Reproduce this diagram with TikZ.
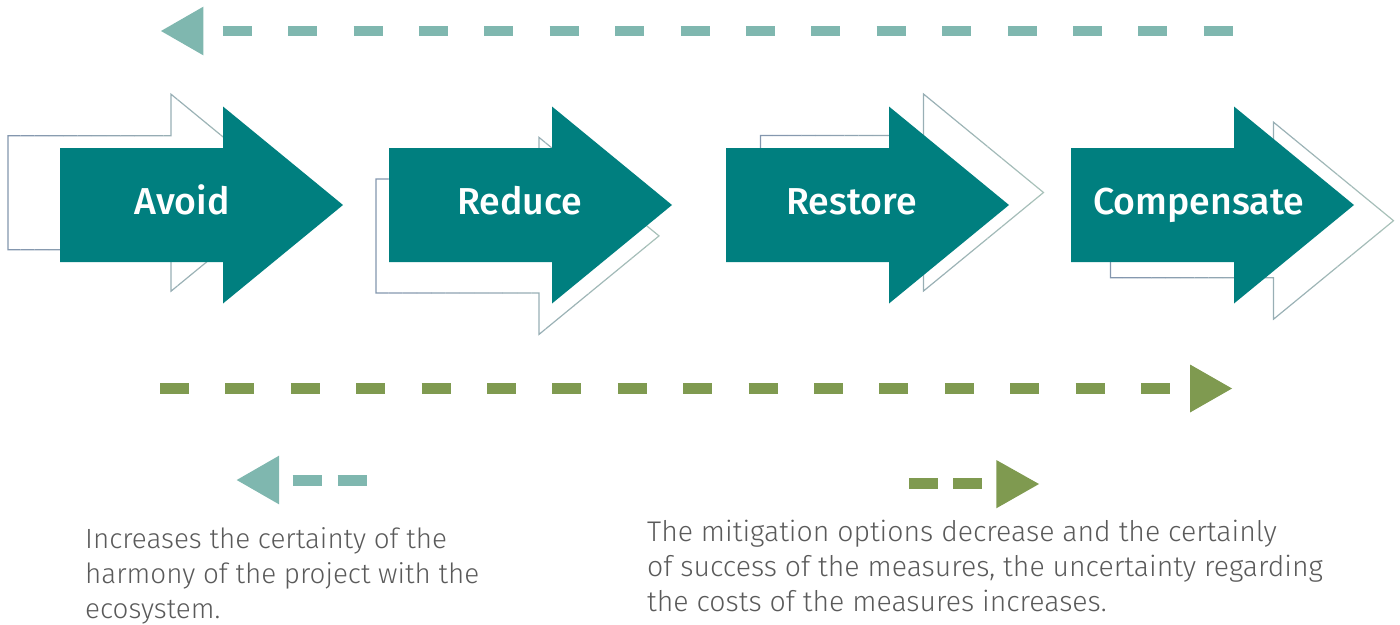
\documentclass[tikz,border=0pt]{standalone}
\usepackage{fontspec}
\setmainfont{Fira Sans}
\newfontfamily\lightfont{Fira Sans Light}
\newfontfamily\medfont{Fira Sans Medium}
\definecolor{mainteal}{HTML}{007F7F}
\definecolor{liteteal}{HTML}{7FB7AF}
\definecolor{olive}{HTML}{7F9A50}
\definecolor{outlB}{HTML}{8396AE}
\definecolor{outlG}{HTML}{AAC3BA}
\definecolor{bodygrey}{HTML}{5A5A5A}
\tikzset{
  lbl/.style={font=\medfont\fontsize{37.5}{42}\selectfont, text=white, anchor=base, inner sep=0pt},
  body/.style={font=\lightfont\fontsize{27.8}{35}\selectfont, text=bodygrey, anchor=base west, align=left, inner sep=0pt},
  bodywide/.style={body, font=\lightfont\fontsize{28.4}{35}\selectfont},
  tealdash/.style={draw=liteteal, line width=10.7pt, dash pattern=on 29pt off 36.4pt},
  olivedash/.style={draw=olive, line width=10.7pt, dash pattern=on 29pt off 36.4pt},
  shortteal/.style={draw=liteteal, line width=10.7pt, dash pattern=on 29pt off 16pt},
  shortolive/.style={draw=olive, line width=10.7pt, dash pattern=on 29pt off 15pt},
  outl/.style={line width=1.2pt, line join=miter},
}
\newcommand\arrowshape[2]{(#1,#2-57) -- (#1+163,#2-57) -- (#1+163,#2-98.5) -- (#1+283,#2) -- (#1+163,#2+98.5) -- (#1+163,#2+57) -- (#1,#2+57) -- cycle}
\newcommand\shadowarrow[2]{%
  \foreach \i in {0,...,19}{%
    \pgfmathtruncatemacro\pc{100-\i*5}%
    \begin{scope}
      \clip (#1-2+\i*14.3,#2-105) rectangle (#1-2+\i*14.3+14.4,#2+105);
      \draw[outl, draw=outlB!\pc!outlG] \arrowshape{#1}{#2};
    \end{scope}}}
\newcommand\mainarrow[2]{\fill[mainteal] \arrowshape{#1}{#2};}
\begin{document}
\begin{tikzpicture}[x=1pt,y=-1pt]
\useasboundingbox (0,0) rectangle (1400,624);
% top dashed arrow
\coordinate (ts) at (222.7,31);
\coordinate (te) at (1233,31);
\draw[tealdash] (ts) -- (te);
\fill[liteteal] (161,31) -- (203.3,6.7) -- (203.3,55.3) -- cycle;
% shadow outlines
\shadowarrow{8}{192.7}
\shadowarrow{376}{235.9}
\shadowarrow{760.5}{192.5}
\shadowarrow{1110.5}{220.7}
% main arrows
\mainarrow{60}{205}
\mainarrow{389}{205}
\mainarrow{726}{205}
\mainarrow{1071}{205}
\node[lbl] (avoid) at (182,214) {Avoid};
\node[lbl] (reduce) at (519.5,214) {Reduce};
\node[lbl] (restore) at (851.5,214) {Restore};
\node[lbl] (comp) at (1198.5,214) {Compensate};
% bottom dashed arrow
\coordinate (bs) at (160,388.5);
\coordinate (be) at (1170,388.5);
\draw[olivedash] (bs) -- (be);
\fill[olive] (1232,388.5) -- (1190,364.5) -- (1190,412.5) -- cycle;
% small legend arrows
\coordinate (ls) at (292.7,480.3);
\coordinate (le) at (366.7,480.3);
\draw[shortteal] (ls) -- (le);
\fill[liteteal] (236.7,480) -- (279,455.7) -- (279,504.3) -- cycle;
\coordinate (rs) at (909,483.3);
\coordinate (re) at (981.7,483.3);
\draw[shortolive] (rs) -- (re);
\fill[olive] (1039,484) -- (996.3,460) -- (996.3,508.3) -- cycle;
% texts
\node[body] (lefttext) at (85,618) {Increases the certainty of the\\harmony of the project with the\\ecosystem.};
\node[bodywide] (righttext) at (647,611.5) {The mitigation options decrease and the certainly\\of success of the measures, the uncertainty regarding\\the costs of the measures increases.};
\end{tikzpicture}
\end{document}
